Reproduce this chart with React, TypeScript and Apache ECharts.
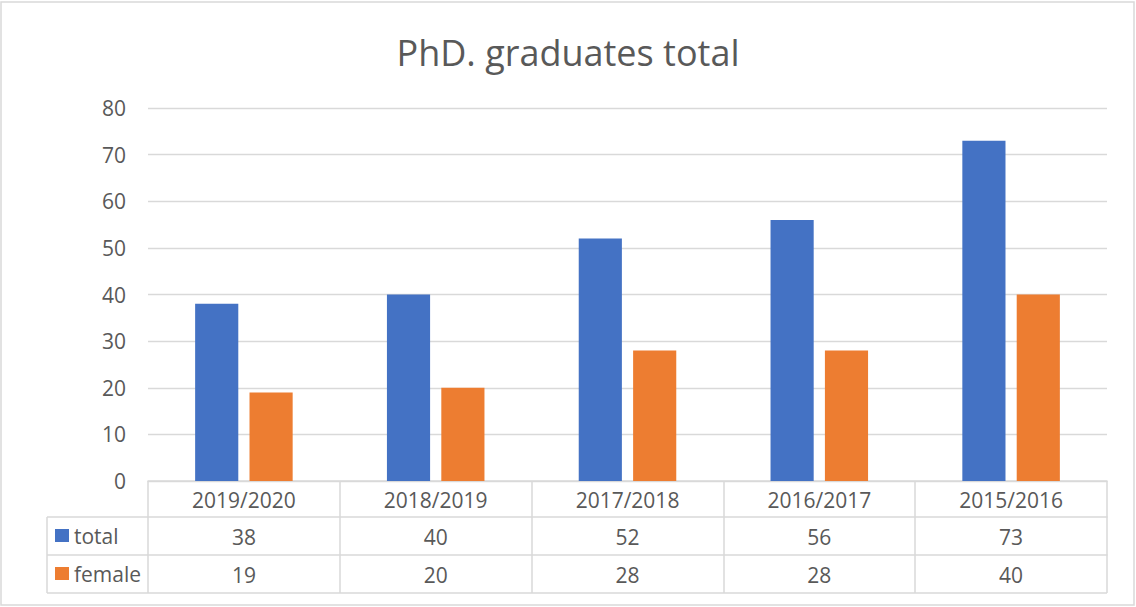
import React, { useEffect, useRef } from "react";
import * as echarts from "echarts";

const categories = ["2019/2020", "2018/2019", "2017/2018", "2016/2017", "2015/2016"];
const seriesNames = ["total", "female"];
const totalValues = [38, 40, 52, 56, 73];
const femaleValues = [19, 20, 28, 28, 40];
const yMin = 0;
const yMax = 80;
const yInterval = 10;

const TEXT = "#595959";
const LINE = "#D9D9D9";
const FONT = "Open Sans";

export default function App() {
  const ref = useRef<HTMLDivElement>(null);
  useEffect(() => {
    if (!ref.current) return;
    const chart = echarts.init(ref.current, undefined, { renderer: "svg" });
    const gridLeft = 148;
    const gridRight = 1107;
    const axisY = 481;
    const row1 = 517;
    const row2 = 555;
    const row3 = 593;
    const tableLeft = 47;
    const tl = { stroke: LINE, lineWidth: 1.5 };
    chart.setOption({
      animation: false,
      backgroundColor: "#ffffff",
      title: {
        text: "PhD. graduates total",
        left: "center",
        top: 34,
        padding: 0,
        textStyle: { color: TEXT, fontFamily: FONT, fontSize: 36, fontWeight: "normal", lineHeight: 36 },
      },
      legend: {
        data: seriesNames,
        orient: "vertical",
        left: 55,
        top: 525,
        padding: 0,
        itemWidth: 14,
        itemHeight: 13,
        itemGap: 17,
        icon: "rect",
        textStyle: { color: TEXT, fontFamily: FONT, fontSize: 21, lineHeight: 21 },
      },
      grid: { left: gridLeft, right: 1136 - gridRight, top: 108, bottom: 607 - axisY, containLabel: false },
      xAxis: [
        {
          type: "category",
          data: categories,
          position: "bottom",
          axisLine: { show: true, lineStyle: { color: LINE, width: 1.5 } },
          axisTick: { show: true, length: row3 - axisY, interval: 0, lineStyle: { color: LINE, width: 1.5 } },
          axisLabel: { interval: 0, margin: 8, color: TEXT, fontFamily: FONT, fontSize: 21, lineHeight: 21 },
        },
        {
          type: "category",
          data: categories,
          position: "bottom",
          offset: row1 - axisY,
          axisLine: { show: true, lineStyle: { color: LINE, width: 1.5 } },
          axisTick: { show: false },
          axisLabel: {
            interval: 0,
            margin: 9,
            color: TEXT,
            fontFamily: FONT,
            fontSize: 21,
            lineHeight: 21,
            formatter: (_v: string, i: number) => String(totalValues[i]),
          },
        },
        {
          type: "category",
          data: categories,
          position: "bottom",
          offset: row2 - axisY,
          axisLine: { show: true, lineStyle: { color: LINE, width: 1.5 } },
          axisTick: { show: false },
          axisLabel: {
            interval: 0,
            margin: 9,
            color: TEXT,
            fontFamily: FONT,
            fontSize: 21,
            lineHeight: 21,
            formatter: (_v: string, i: number) => String(femaleValues[i]),
          },
        },
      ],
      yAxis: {
        type: "value",
        min: yMin,
        max: yMax,
        interval: yInterval,
        axisLine: { show: false },
        axisTick: { show: false },
        axisLabel: { margin: 22, color: TEXT, fontFamily: FONT, fontSize: 21 },
        splitLine: { lineStyle: { color: LINE, width: 1.3 } },
      },
      series: [
        {
          name: seriesNames[0],
          type: "bar",
          data: totalValues,
          barWidth: "22.5%",
          barGap: "26%",
          itemStyle: { color: "#4472C4" },
        },
        {
          name: seriesNames[1],
          type: "bar",
          data: femaleValues,
          barWidth: "22.5%",
          barGap: "26%",
          itemStyle: { color: "#ED7D31" },
        },
      ],
      graphic: [
        { type: "rect", shape: { x: 1, y: 2, width: 1133, height: 603 }, style: { fill: "none", stroke: LINE, lineWidth: 1.5 }, silent: true },
        { type: "line", shape: { x1: tableLeft, y1: row1, x2: gridLeft, y2: row1 }, style: tl, silent: true },
        { type: "line", shape: { x1: tableLeft, y1: row2, x2: gridLeft, y2: row2 }, style: tl, silent: true },
        { type: "line", shape: { x1: tableLeft, y1: row3, x2: gridRight, y2: row3 }, style: tl, silent: true },
        { type: "line", shape: { x1: tableLeft, y1: row1, x2: tableLeft, y2: row3 }, style: tl, silent: true },
      ],
    });
    return () => chart.dispose();
  }, []);
  return <div ref={ref} style={{ position: "fixed", left: 0, top: 0, width: 1136, height: 607 }} />;
}
